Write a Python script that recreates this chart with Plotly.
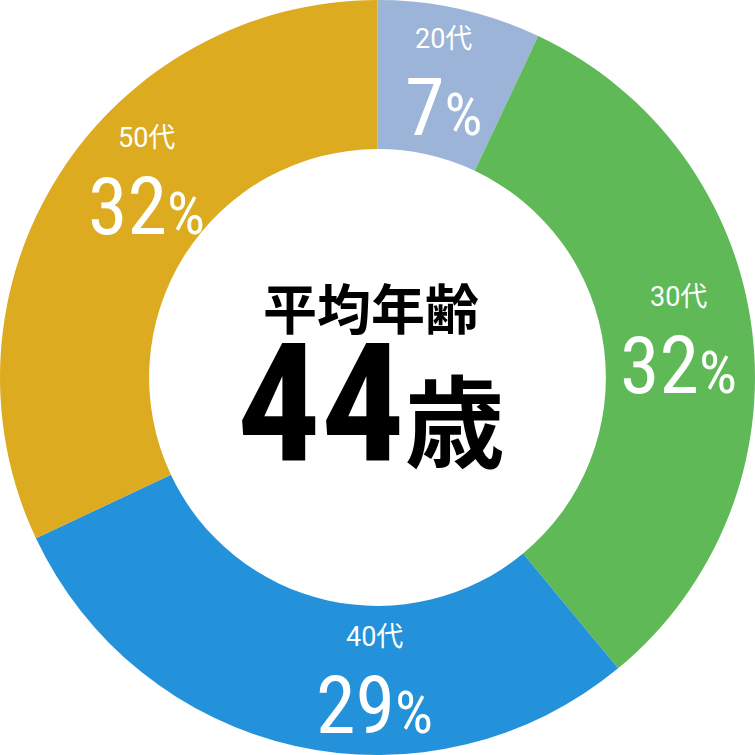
import math
import plotly.graph_objects as go

ages = ["20代", "30代", "40代", "50代"]
shares = [7, 32, 29, 32]
colors = ["#9cb4d7", "#5eb956", "#2492da", "#dcab20"]
center_title = "平均年齢"
center_value = "44"
center_unit = "歳"

# layout styling (not data): small angular nudges of the slice labels, in degrees
LABEL_ANGLE_NUDGE = [0, 0, -12, 8]

HOLE = 0.605
NUM_FONT = "Roboto Condensed, Roboto, Noto Sans CJK JP"
LBL_FONT = "Roboto, Noto Sans CJK JP"

fig = go.Figure(go.Pie(
    labels=ages,
    values=shares,
    textinfo="none",
    hole=HOLE,
    sort=False,
    direction="clockwise",
    rotation=0,
    marker=dict(colors=colors, line=dict(width=0)),
    showlegend=False,
    hoverinfo="skip",
))

# label positions derived from the data: mid-angle of each slice, mid-ring radius
annotations = []
total = sum(shares)
cum = 0
ring_mid = 0.5 * (1 + HOLE) / 2  # in paper units (domain radius = 0.5)
for a, v, nudge in zip(ages, shares, LABEL_ANGLE_NUDGE):
    mid = (cum + v / 2) / total * 2 * math.pi + math.radians(nudge)
    cum += v
    x = 0.5 + ring_mid * math.sin(mid)
    y = 0.5 + ring_mid * math.cos(mid)
    annotations.append(dict(text=a, x=x, y=y, xref="paper", yref="paper", showarrow=False,
                            xanchor="center", yanchor="middle", yshift=43,
                            font=dict(family=LBL_FONT, size=27, color="white")))
    annotations.append(dict(text=f"{v}<span style='font-size:60px'>%</span>", x=x, y=y,
                            xref="paper", yref="paper", showarrow=False,
                            xanchor="center", yanchor="middle", yshift=-26,
                            font=dict(family=NUM_FONT, size=80, color="white")))

center_text = (
    f"<span style='font-size:54px'><b>{center_title}</b></span><br>"
    f"<b><span style='font-family:Roboto Condensed, Noto Sans CJK JP;font-size:166px'>{center_value}</span>"
    f"<span style='font-size:100px'>{center_unit}</span></b>"
)
annotations.append(dict(text=center_text, x=0.492, y=0.491, xref="paper", yref="paper",
                        xanchor="center", yanchor="middle", showarrow=False,
                        font=dict(family="Noto Sans CJK JP", size=100, color="black")))

fig.update_layout(
    width=755, height=755,
    margin=dict(l=0, r=0, t=0, b=0),
    paper_bgcolor="white",
    plot_bgcolor="white",
    annotations=annotations,
)

fig.write_html("out.html", config={"displayModeBar": False},
               post_script="document.body.style.margin='0';")
